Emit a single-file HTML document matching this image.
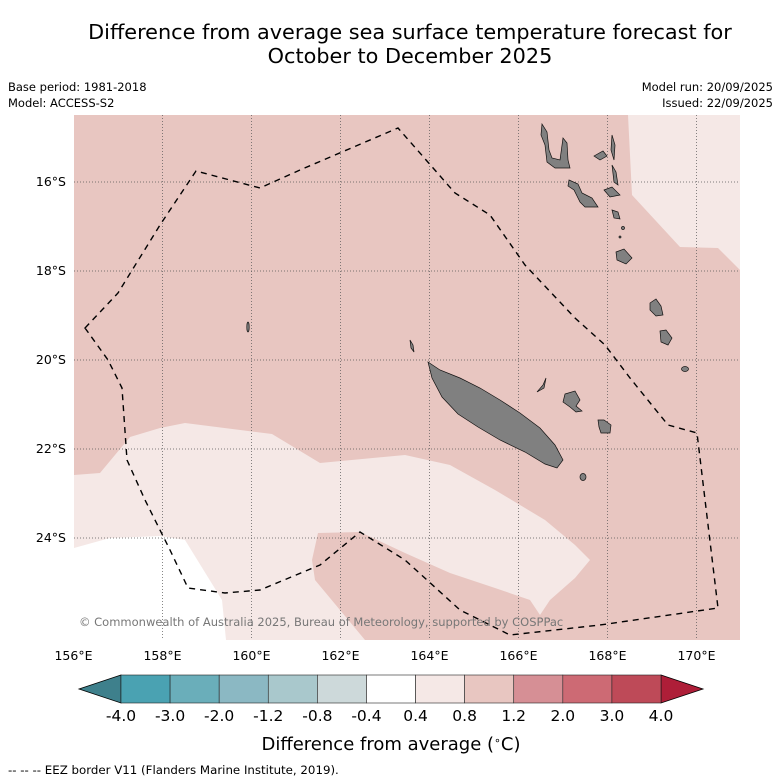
<!DOCTYPE html>
<html><head><meta charset="utf-8"><style>
body{margin:0;background:#fff;width:781px;height:781px;overflow:hidden;font-family:"Liberation Sans","DejaVu Sans",sans-serif}
svg{display:block}
</style></head><body>
<svg width="781" height="781" viewBox="0 0 781 781" font-family="DejaVu Sans, Liberation Sans, sans-serif">
<text x="410" y="39" text-anchor="middle" font-size="20.8">Difference from average sea surface temperature forecast for</text>
<text x="410" y="63" text-anchor="middle" font-size="20.8">October to December 2025</text>
<text x="8" y="91" font-size="11.5">Base period: 1981-2018</text>
<text x="8" y="107" font-size="11.5">Model: ACCESS-S2</text>
<text x="773" y="91" font-size="11.5" text-anchor="end">Model run: 20/09/2025</text>
<text x="773" y="107" font-size="11.5" text-anchor="end">Issued: 22/09/2025</text>
<defs><clipPath id="mc"><rect x="74" y="115" width="666" height="525"/></clipPath></defs>
<g clip-path="url(#mc)">
<rect x="74" y="115" width="666" height="525" fill="#e8c6c1"/>
<polygon fill="#f5e8e6" points="74,475 100,473 130,437 160,428 185,423 272,434 320,463 405,455 450,465 495,490 545,520 575,545 590,560 575,578 550,600 540,615 530,600 495,588 450,573 405,553 360,532 318,533 312,560 315,580 340,610 365,640 226,640 74,640"/>
<polygon fill="#ffffff" points="74,548 110,538 160,536 185,540 222,600 226,640 74,640"/>
<polygon fill="#f5e8e6" points="628,115 632,195 680,247 718,248 740,270 740,115"/>
<g stroke="#555" stroke-width="0.7" stroke-dasharray="1,2">
<line x1="162.5" y1="115" x2="162.5" y2="640"/><line x1="251.5" y1="115" x2="251.5" y2="640"/><line x1="340.5" y1="115" x2="340.5" y2="640"/><line x1="429.5" y1="115" x2="429.5" y2="640"/><line x1="518.5" y1="115" x2="518.5" y2="640"/><line x1="607.5" y1="115" x2="607.5" y2="640"/><line x1="696.5" y1="115" x2="696.5" y2="640"/>
<line x1="74" y1="182" x2="740" y2="182"/><line x1="74" y1="271" x2="740" y2="271"/><line x1="74" y1="360" x2="740" y2="360"/><line x1="74" y1="449" x2="740" y2="449"/><line x1="74" y1="538" x2="740" y2="538"/>
</g>
<g fill="#808080" stroke="#111" stroke-width="0.7">
<polygon points="428,362 440,370 460,378 480,388 500,400 520,413 540,428 555,445 563,460 557,468 545,464 525,452 500,440 478,427 458,414 442,397 432,378"/>
<polygon points="542,124 547,132 549,150 552,158 560,160 563,138 567,143 568,160 570,168 555,168 547,162 545,145 541,135"/>
<polygon points="569,180 578,184 582,193 592,198 598,207 585,207 580,202 574,190 568,186"/>
<polygon points="594,156 603,151 607,156 600,160"/>
<polygon points="612,135 615,145 614,160 611,150"/>
<polygon points="612,165 616,172 618,185 614,182"/>
<polygon points="604,190 612,187 620,195 610,197"/>
<polygon points="612,210 618,212 620,219 614,218"/>
<polygon points="616,252 624,249 632,258 626,264 617,260"/>
<polygon points="650,303 656,299 661,306 663,315 656,316 650,310"/>
<polygon points="660,331 666,330 672,338 668,345 661,342"/>
<ellipse cx="685" cy="369" rx="3.5" ry="2.5"/>
<polygon points="565,394 575,391 580,400 576,406 582,411 576,412 570,407 563,402"/>
<polygon points="598,420 604,420 611,425 610,433 601,433 599,427"/>
<polygon points="537,392 543,385 546,378 544,388"/>
<ellipse cx="583" cy="477" rx="3" ry="3.5"/>
<ellipse cx="248" cy="327" rx="1.2" ry="5"/>
<polygon points="410,340 413,345 414,352 411,348"/>
<ellipse cx="623" cy="228" rx="1.5" ry="1.5"/><ellipse cx="620" cy="237" rx="1" ry="1"/>
</g>
<polygon fill="none" stroke="#000" stroke-width="1.4" stroke-dasharray="6,5" points="85,328 118,293 160,225 196,171 260,188 300,170 398,128 455,193 490,215 525,265 575,318 605,345 630,378 668,425 697,433 718,608 600,625 510,635 460,610 405,560 360,532 320,565 260,590 225,593 188,588 170,550 145,500 127,460 122,388 108,360"/>
<text x="79" y="626" font-size="11.5" fill="#777">© Commonwealth of Australia 2025, Bureau of Meteorology, supported by COSPPac</text>
</g>
<g font-size="12.5">
<text x="66" y="186" text-anchor="end">16°S</text><text x="66" y="275" text-anchor="end">18°S</text><text x="66" y="364" text-anchor="end">20°S</text><text x="66" y="453" text-anchor="end">22°S</text><text x="66" y="542" text-anchor="end">24°S</text>
</g>
<g id="xl" font-size="12.5" text-anchor="middle"></g>
<g id="cb"></g>
<text x="391" y="750" font-size="18" text-anchor="middle">Difference from average (<tspan baseline-shift="super" font-size="11">∘</tspan>C)</text>
<text x="8" y="774" font-size="11.8">--  --  -- EEZ border V11 (Flanders Marine Institute, 2019).</text>
</svg>
<script>
const lonTicks=[156,158,160,162,164,166,168,170];
const cbLevels=["-4.0","-3.0","-2.0","-1.2","-0.8","-0.4","0.4","0.8","1.2","2.0","3.0","4.0"];
const cbColors=["#4aa2b2","#6aaeba","#8bb8c3","#a9c8cc","#cdd9da","#ffffff","#f5e8e6","#e8c6c1","#d68f95","#cd6a74","#be4a58"];
const cbUnder="#3e808c", cbOver="#ae1e38";
const NS="http://www.w3.org/2000/svg";
const lonX=l=>73.5+(l-156)*44.5;
const xl=document.getElementById('xl');
lonTicks.forEach(l=>{const t=document.createElementNS(NS,'text');
t.setAttribute('x',lonX(l));t.setAttribute('y',660);t.textContent=l+'°E';


xl.appendChild(t);});
const cb=document.getElementById('cb');
const x0=121,x1=661,y0=675,y1=703,w=(x1-x0)/cbColors.length;
const tri=(pts,c,n)=>{const p=document.createElementNS(NS,'polygon');p.setAttribute('points',pts);p.setAttribute('fill',c);p.setAttribute('stroke','#000');p.setAttribute('stroke-width','0.8');


cb.appendChild(p);};
tri(`${x0},${y0} 79,${(y0+y1)/2} ${x0},${y1}`,cbUnder,'colorbar-under-arrow');
tri(`${x1},${y0} 703,${(y0+y1)/2} ${x1},${y1}`,cbOver,'colorbar-over-arrow');
cbColors.forEach((c,i)=>{const r=document.createElementNS(NS,'rect');
r.setAttribute('x',x0+i*w);r.setAttribute('y',y0);r.setAttribute('width',w);r.setAttribute('height',y1-y0);
r.setAttribute('fill',c);r.setAttribute('stroke','#222');r.setAttribute('stroke-width','0.6');


cb.appendChild(r);});
cbLevels.forEach((v,i)=>{const t=document.createElementNS(NS,'text');
t.setAttribute('x',x0+i*w);t.setAttribute('y',721);t.setAttribute('text-anchor','middle');t.setAttribute('font-size','15.5');t.textContent=v;


cb.appendChild(t);});
</script>
</body></html>
